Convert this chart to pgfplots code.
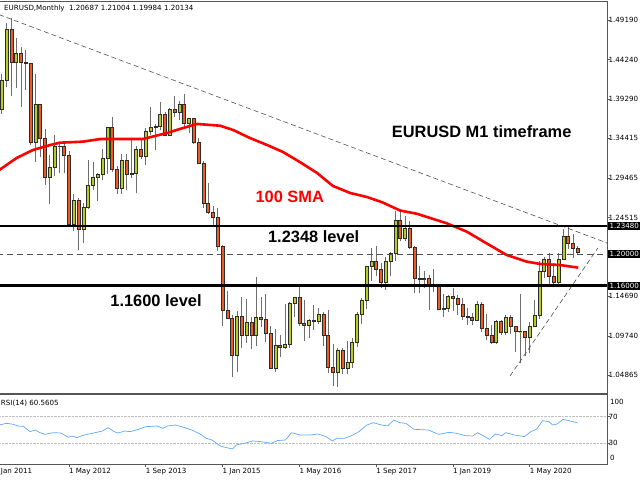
\documentclass[border=0pt]{standalone}
\usepackage{pgfplots}
\pgfplotsset{compat=1.18}
\usepackage{pgfplotstable}
\usepackage{fontspec}
\setmainfont{DejaVu Sans}
\newfontfamily\arialfont{Liberation Sans}
\definecolor{bull}{RGB}{184,206,30}
\definecolor{bear}{RGB}{240,90,36}
\definecolor{wick}{RGB}{110,110,110}
\definecolor{edge}{RGB}{45,45,45}
\definecolor{rsiblue}{RGB}{95,168,255}
\definecolor{frame}{RGB}{85,85,85}
\definecolor{trend}{RGB}{80,80,80}
\newcommand{\smallf}{\fontsize{7.1}{8.5}\selectfont}
\newcommand{\bigf}{\arialfont\bfseries\fontsize{16.4}{19}\selectfont}

\pgfplotstableread{
i o h l c
0 1.3806 1.4249 1.3748 1.4165
1 1.4165 1.4882 1.4081 1.4807
2 1.4807 1.4940 1.3968 1.4393
3 1.4393 1.4700 1.4075 1.4502
4 1.4502 1.4578 1.3837 1.4391
5 1.4391 1.4549 1.4051 1.4379
6 1.4379 1.4388 1.3362 1.3388
7 1.3388 1.4247 1.3146 1.3869
8 1.3869 1.3876 1.3211 1.3448
9 1.3448 1.3553 1.2858 1.2961
10 1.2961 1.3234 1.2624 1.3079
11 1.3079 1.3486 1.2974 1.3340
12 1.3340 1.3386 1.3004 1.3341
13 1.3341 1.3383 1.3003 1.3236
14 1.3236 1.3283 1.2332 1.2369
15 1.2369 1.2748 1.2288 1.2667
16 1.2667 1.2692 1.2042 1.2304
17 1.2304 1.2637 1.2134 1.2578
18 1.2578 1.3172 1.2563 1.2860
19 1.2860 1.3140 1.2802 1.2955
20 1.2955 1.3011 1.2661 1.2988
21 1.2988 1.3308 1.2927 1.3193
22 1.3193 1.3586 1.2998 1.3580
23 1.3580 1.3711 1.3020 1.3055
24 1.3055 1.3102 1.2750 1.2819
25 1.2819 1.3243 1.2745 1.3166
26 1.3166 1.3243 1.2796 1.2999
27 1.2999 1.3416 1.2951 1.3009
28 1.3009 1.3345 1.2755 1.3302
29 1.3302 1.3452 1.3188 1.3223
30 1.3223 1.3568 1.3106 1.3525
31 1.3525 1.3832 1.3487 1.3580
32 1.3580 1.3621 1.3295 1.3591
33 1.3591 1.3893 1.3545 1.3743
34 1.3743 1.3775 1.3477 1.3486
35 1.3486 1.3825 1.3477 1.3802
36 1.3802 1.3967 1.3705 1.3770
37 1.3770 1.3906 1.3673 1.3867
38 1.3867 1.3993 1.3589 1.3633
39 1.3633 1.3700 1.3503 1.3692
40 1.3692 1.3701 1.3367 1.3391
41 1.3391 1.3444 1.3115 1.3132
42 1.3132 1.3160 1.2571 1.2631
43 1.2631 1.2886 1.2500 1.2525
44 1.2525 1.2600 1.2358 1.2452
45 1.2452 1.2571 1.2034 1.2098
46 1.2098 1.2105 1.1098 1.1290
47 1.1290 1.1534 1.1180 1.1196
48 1.1196 1.1240 1.0462 1.0731
49 1.0731 1.1290 1.0520 1.1224
50 1.1224 1.1467 1.0819 1.0987
51 1.0987 1.1436 1.0887 1.1147
52 1.1147 1.1215 1.0809 1.0985
53 1.0985 1.1714 1.0848 1.1213
54 1.1213 1.1460 1.1086 1.1177
55 1.1177 1.1495 1.0897 1.1004
56 1.1004 1.1095 1.0557 1.0566
57 1.0566 1.1060 1.0523 1.0862
58 1.0862 1.0986 1.0710 1.0831
59 1.0831 1.1376 1.0810 1.0871
60 1.0871 1.1398 1.0822 1.1380
61 1.1380 1.1464 1.1217 1.1453
62 1.1453 1.1616 1.1098 1.1131
63 1.1131 1.1428 1.0912 1.1104
64 1.1104 1.1186 1.0952 1.1175
65 1.1175 1.1366 1.1046 1.1158
66 1.1158 1.1327 1.1121 1.1240
67 1.1240 1.1278 1.0852 1.0981
68 1.0981 1.1300 1.0506 1.0589
69 1.0589 1.0874 1.0352 1.0517
70 1.0517 1.0829 1.0340 1.0797
71 1.0797 1.0829 1.0494 1.0576
72 1.0576 1.0906 1.0494 1.0652
73 1.0652 1.0951 1.0569 1.0895
74 1.0895 1.1268 1.0839 1.1242
75 1.1242 1.1445 1.1118 1.1426
76 1.1426 1.1846 1.1312 1.1843
77 1.1843 1.2070 1.1661 1.1906
78 1.1906 1.2092 1.1717 1.1813
79 1.1813 1.1880 1.1574 1.1646
80 1.1646 1.1961 1.1554 1.1904
81 1.1904 1.2023 1.1717 1.2005
82 1.2005 1.2537 1.1915 1.2415
83 1.2415 1.2555 1.2154 1.2193
84 1.2193 1.2476 1.2155 1.2324
85 1.2324 1.2414 1.2055 1.2079
86 1.2079 1.2097 1.1510 1.1693
87 1.1693 1.1852 1.1508 1.1684
88 1.1684 1.1791 1.1575 1.1690
89 1.1690 1.1734 1.1301 1.1600
90 1.1600 1.1815 1.1526 1.1604
91 1.1604 1.1625 1.1302 1.1313
92 1.1313 1.1500 1.1216 1.1316
93 1.1316 1.1486 1.1269 1.1467
94 1.1467 1.1570 1.1289 1.1448
95 1.1448 1.1489 1.1234 1.1372
96 1.1372 1.1448 1.1176 1.1217
97 1.1217 1.1324 1.1110 1.1214
98 1.1214 1.1265 1.1107 1.1167
99 1.1167 1.1412 1.1160 1.1372
100 1.1372 1.1393 1.1027 1.1075
101 1.1075 1.1250 1.0927 1.0987
102 1.0987 1.1110 1.0879 1.0899
103 1.0899 1.1179 1.0879 1.1152
104 1.1152 1.1175 1.0981 1.1017
105 1.1017 1.1240 1.0981 1.1213
106 1.1213 1.1239 1.1005 1.1093
107 1.1093 1.1096 1.0778 1.1027
108 1.1027 1.1495 1.0636 1.1030
109 1.1030 1.1040 1.0727 1.0955
110 1.0955 1.1147 1.0767 1.1100
111 1.1100 1.1422 1.1097 1.1234
112 1.1234 1.1908 1.1185 1.1778
113 1.1778 1.1966 1.1696 1.1936
114 1.1936 1.2011 1.1612 1.1721
115 1.1721 1.1880 1.1622 1.1647
116 1.1647 1.2004 1.1603 1.1927
117 1.1927 1.2310 1.1924 1.2215
118 1.2215 1.2349 1.2054 1.2136
119 1.2136 1.2243 1.1952 1.2075
120 1.20687 1.21004 1.19984 1.20134
}\candles

\pgfplotstableread{
i sma
-0.56 1.3044
3.1 1.3196
6.5 1.3296
10.1 1.3358
12.1 1.3387
16.9 1.3400
20.5 1.3433
29.4 1.3433
34.4 1.3508
37.8 1.3571
40.7 1.3621
45.5 1.3599
48.2 1.3546
51.7 1.3446
55.3 1.3358
58.6 1.3271
62.1 1.3146
65.7 1.3009
69.0 1.2847
72.6 1.2759
76.1 1.2709
79.4 1.2640
83.0 1.2540
86.5 1.2500
92.7 1.2381
96.9 1.2276
101.0 1.2131
105.2 1.1985
109.4 1.1902
112.2 1.1873
116.3 1.1860
120.1 1.1827
}\sma

\pgfplotstableread{
i rsi
-0.56 57.5
1.0 60
2.5 58.5
3.3 56
4.5 55.5
5.9 47.5
7.0 50
7.8 46.5
9.0 43.5
10.8 46
12.3 45.5
13.9 39
14.6 41
15.6 38.5
17.2 42.5
19.5 46
21.0 48.5
22.2 53.5
23.4 47.5
24.3 45.5
25.6 48.5
26.8 47.5
28.5 51
30.0 55
32.4 56
33.6 52.5
34.5 56
36.2 57.5
37.9 54
39.6 50
41.3 44
42.6 37.5
43.8 35
45.5 26
46.8 23.5
48.1 21.5
48.9 27.5
50.6 30
52.3 33.5
54.0 32.5
56.2 30
57.4 34
59.1 35
60.4 46
62.1 42.5
64.2 42.5
65.9 44
67.6 40
68.9 33.5
69.8 37.5
71.5 37.5
73.2 42.5
74.4 47.5
76.1 57.5
77.4 61
79.1 57.5
80.4 56
81.7 65
82.9 61
84.2 60
85.9 51
88.9 50
91.0 43.5
93.2 46.5
94.8 45
96.5 41.5
98.2 41
99.1 46
100.4 41
101.6 36
102.9 44
104.2 41.5
105.0 46
106.8 42.5
108.9 40
110.2 47.5
111.4 51
112.7 64
114.0 62.5
114.8 57.5
115.7 59
116.9 66
118.2 64
120.0 60.56
}\rsi

\pgfplotsset{
  wickplot/.style={draw=none, mark=none, forget plot,
    error bars/y dir=plus, error bars/y explicit, error bars/error mark=none,
    error bars/error bar style={color=wick, line width=0.75pt}},
  bullbody/.style={draw=none, mark=none, forget plot,
    error bars/y dir=plus, error bars/y explicit, error bars/error mark=none,
    error bars/draw error bar/.code 2 args={%
      \path ##1 ++(-1.5pt,0pt) coordinate (cndA);
      \path ##2 ++(1.5pt,0pt) coordinate (cndB);
      \path[fill=bull, draw=edge, line width=0.5pt] (cndA) rectangle (cndB);}},
  bearbody/.style={draw=none, mark=none, forget plot,
    error bars/y dir=plus, error bars/y explicit, error bars/error mark=none,
    error bars/draw error bar/.code 2 args={%
      \path ##1 ++(-1.5pt,0pt) coordinate (cndA);
      \path ##2 ++(1.5pt,0pt) coordinate (cndB);
      \path[fill=bear, draw=edge, line width=0.5pt] (cndA) rectangle (cndB);}},
}

\begin{document}
\begin{tikzpicture}[x=1pt,y=1pt]
\path[use as bounding box] (0,0) rectangle (640,480);

\begin{axis}[
  at={(-1pt,86.2pt)}, anchor=south west, scale only axis,
  width=608pt, height=392.3pt,
  xmin=-0.5625, xmax=126.104,
  ymin=1.025233, ymax=1.514996,
  axis line style={frame, line width=0.8pt},
  xtick=\empty,
  ytick={1.04865,1.09740,1.14690,1.24515,1.29465,1.34415,1.39290,1.44240,1.49190},
  yticklabels={1.04865,1.09740,1.14690,1.24515,1.29465,1.34415,1.39290,1.44240,1.49190},
  ytick pos=right, yticklabel pos=right,
  tick align=outside, major tick length=3pt,
  tick style={frame, line width=0.6pt},
  yticklabel style={font=\smallf, anchor=west, inner sep=0pt, xshift=-1.5pt},
]
\addplot [wickplot] table [x=i, y=l, y error expr=\thisrow{h}-\thisrow{l}] {\candles};
\addplot [bullbody] table [x=i, y=o, y error expr={max(\thisrow{c}-\thisrow{o},0)}] {\candles};
\addplot [bearbody] table [x=i, y=c, y error expr={max(\thisrow{o}-\thisrow{c},0)}] {\candles};
\addplot [red, line width=2.6pt] table [x=i, y=sma] {\sma};
\addplot [trend, line width=0.6pt, dash pattern=on 5pt off 3pt] coordinates {(-0.5625,1.49864) (126.104,1.2135)};
\addplot [trend, line width=0.6pt, dash pattern=on 5pt off 3pt] coordinates {(105.9,1.04745) (124.2,1.20725)};
\addplot [trend, line width=0.6pt, dash pattern=on 6pt off 4pt] coordinates {(-1,1.2) (127,1.2)};
\addplot [black, line width=2.7pt] coordinates {(-1,1.2348) (127,1.2348)};
\addplot [black, line width=2.7pt] coordinates {(-1,1.16) (127,1.16)};
\end{axis}

\begin{axis}[
  at={(-1pt,16pt)}, anchor=south west, scale only axis,
  width=608pt, height=69.2pt,
  xmin=-0.5625, xmax=126.104,
  ymin=-1.13, ymax=102.9,
  axis line style={frame, line width=0.8pt},
  xtick={14,30,46,62,78,94,110},
  xticklabels={1 May 2012,1 Sep 2013,1 Jan 2015,1 May 2016,1 Sep 2017,1 Jan 2019,1 May 2020},
  xtick pos=bottom,
  ytick={30,70}, yticklabels={30,70},
  ytick pos=right, yticklabel pos=right,
  tick align=outside, major tick length=3pt,
  tick style={frame, line width=0.6pt},
  ymajorgrids, grid style={densely dotted, gray!50, line width=0.5pt},
  xticklabel style={font=\smallf, anchor=north west, inner sep=0pt, xshift=0pt, yshift=-1pt},
  yticklabel style={font=\smallf, anchor=west, inner sep=0pt, xshift=-1.5pt},
]
\addplot [rsiblue, line width=0.7pt] table [x=i, y=rsi] {\rsi};
\end{axis}

% texts
\node[anchor=west, inner sep=0pt, font=\smallf] at (4,471.7) {EURUSD,Monthly\ \ 1.20687 1.21004 1.19984 1.20134};
\node[anchor=west, inner sep=0pt, font=\smallf] at (0.8,76.7) {RSI(14) 60.5605};
\node[anchor=north west, inner sep=0pt, font=\smallf] at (0.8,12) {Jan 2011};
\node[anchor=west, inner sep=0pt, font=\smallf] at (610,78) {100};
\node[anchor=west, inner sep=0pt, font=\smallf] at (610,21.7) {0};

\node[fill=black, text=white, font=\smallf, inner sep=1pt, anchor=west, minimum height=8.5pt, minimum width=33pt] at (607.5,254) {1.23480\hfill};
\node[fill=black, text=white, font=\smallf, inner sep=1pt, anchor=west, minimum height=8.5pt, minimum width=33pt] at (607.5,226) {1.20000\hfill};
\node[fill=black, text=white, font=\smallf, inner sep=1pt, anchor=west, minimum height=8.5pt, minimum width=33pt] at (607.5,194) {1.16000\hfill};

\node[font=\bigf] at (481.7,348.3) {EURUSD M1 timeframe};
\node[font=\bigf, text=red] at (289.7,282.7) {100 SMA};
\node[font=\bigf] at (313.7,243.3) {1.2348 level};
\node[font=\bigf] at (156,179) {1.1600 level};
\end{tikzpicture}
\end{document}
